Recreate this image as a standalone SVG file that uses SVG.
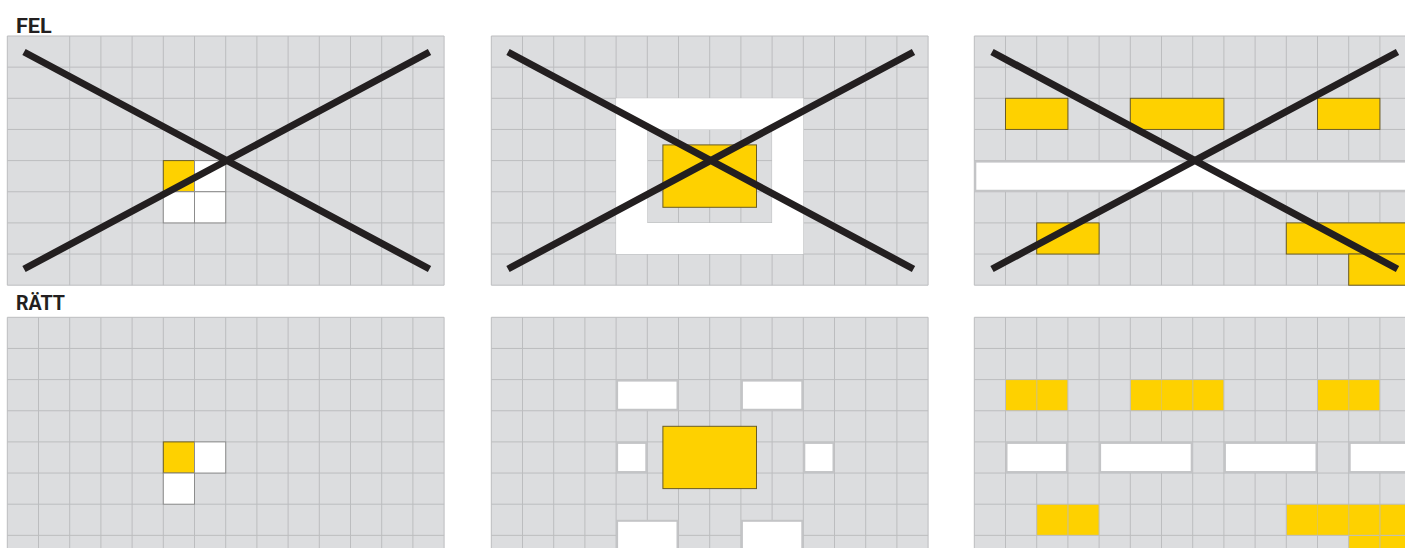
<svg xmlns="http://www.w3.org/2000/svg" width="1405" height="548" viewBox="0 0 1405 548">
<style>
.bg{fill:#dcdddf}
.grid{fill:none;stroke:#bcbdbf;stroke-width:1}
.ylw{fill:#fed100;stroke:#6b5d27;stroke-width:1}
.ylwf{fill:#fed100}
.wcell{fill:#ffffff;stroke:#8c8c8c;stroke-width:1}
.wbox{fill:#ffffff;stroke:#c3c4c6;stroke-width:2}
.cross{stroke:#231f20;stroke-width:7;stroke-linecap:butt;fill:none}
.lbl{font-family:Roboto,"Liberation Sans",sans-serif;font-weight:700;font-size:21px;fill:#231f20}
.sep{fill:none;stroke:#e3c74a;stroke-width:1}
</style>
<rect width="1405" height="548" fill="#ffffff"/>

<g id="labels">
<text class="lbl" x="16" y="32.7" textLength="35.7" lengthAdjust="spacingAndGlyphs">FEL</text>
<text class="lbl" x="16" y="310" textLength="49" lengthAdjust="spacingAndGlyphs">RÄTT</text>
</g>

<!-- Top-left: wrong -->
<g id="fel-1">
<rect class="bg" x="7.3" y="36" width="436.8" height="249.2"/>
<path class="grid" d="M7.3 36V285.2M69.7 36V285.2M100.9 36V285.2M132.1 36V285.2M163.3 36V285.2M194.5 36V285.2M225.7 36V285.2M256.9 36V285.2M288.1 36V285.2M319.3 36V285.2M350.5 36V285.2M381.7 36V285.2M412.9 36V285.2M444.1 36V285.2M7.3 36H444.1M7.3 67.15H444.1M7.3 98.3H444.1M7.3 129.45H444.1M7.3 160.6H444.1M7.3 191.75H444.1M7.3 222.9H444.1M7.3 254.05H444.1M7.3 285.2H444.1"/>
<rect class="ylw" x="163.3" y="160.6" width="31.2" height="31.15"/>
<rect class="wcell" x="194.5" y="160.6" width="31.2" height="31.15"/>
<rect class="wcell" x="163.3" y="191.75" width="31.2" height="31.15"/>
<rect class="wcell" x="194.5" y="191.75" width="31.2" height="31.15"/>
<path class="cross" d="M24 52L429.5 269M24 269L429.5 52"/>
</g>

<!-- Top-middle: wrong -->
<g id="fel-2">
<rect class="bg" x="491.3" y="36" width="436.8" height="249.2"/>
<path class="grid" d="M491.3 36V285.2M522.5 36V285.2M553.7 36V285.2M584.9 36V285.2M616.1 36V285.2M647.3 36V285.2M678.5 36V285.2M709.7 36V285.2M740.9 36V285.2M772.1 36V285.2M803.3 36V285.2M834.5 36V285.2M865.7 36V285.2M896.9 36V285.2M928.1 36V285.2M491.3 36H928.1M491.3 67.15H928.1M491.3 98.3H928.1M491.3 129.45H928.1M491.3 160.6H928.1M491.3 191.75H928.1M491.3 222.9H928.1M491.3 254.05H928.1M491.3 285.2H928.1"/>
<path fill="#ffffff" fill-rule="evenodd" d="M616.1 98.3H803.3V254.05H616.1ZM647.3 129.45V222.9H772.1V129.45Z"/>
<rect class="ylw" x="662.9" y="144.9" width="93.6" height="62.4"/>
<path class="cross" d="M508 52L913.5 269M508 269L913.5 52"/>
</g>

<!-- Top-right: wrong -->
<g id="fel-3">
<rect class="bg" x="974.3" y="36" width="436.8" height="249.2"/>
<path class="grid" d="M974.3 36V285.2M1005.5 36V285.2M1036.7 36V285.2M1067.9 36V285.2M1099.1 36V285.2M1130.3 36V285.2M1161.5 36V285.2M1192.7 36V285.2M1223.9 36V285.2M1255.1 36V285.2M1286.3 36V285.2M1317.5 36V285.2M1348.7 36V285.2M1379.9 36V285.2M974.3 36H1411M974.3 67.15H1411M974.3 98.3H1411M974.3 129.45H1411M974.3 160.6H1411M974.3 191.75H1411M974.3 222.9H1411M974.3 254.05H1411M974.3 285.2H1411"/>
<rect class="ylw" x="1005.5" y="98.3" width="62.4" height="31.15"/>
<rect class="ylw" x="1130.3" y="98.3" width="93.6" height="31.15"/>
<rect class="ylw" x="1317.5" y="98.3" width="62.4" height="31.15"/>
<rect class="wbox" x="975.3" y="161.6" width="440" height="29.15"/>
<rect class="ylw" x="1036.7" y="222.9" width="62.4" height="31.15"/>
<rect class="ylw" x="1286.3" y="222.9" width="130" height="31.15"/>
<rect class="ylw" x="1348.7" y="254.05" width="70" height="31.15"/>
<path class="cross" d="M992 52L1397.5 269M992 269L1397.5 52"/>
</g>

<!-- Bottom-left: right -->
<g id="ratt-1">
<rect class="bg" x="7.3" y="317.3" width="436.8" height="240"/>
<path class="grid" d="M7.3 317.3V560M38.5 317.3V560M69.7 317.3V560M100.9 317.3V560M132.1 317.3V560M163.3 317.3V560M194.5 317.3V560M225.7 317.3V560M256.9 317.3V560M288.1 317.3V560M319.3 317.3V560M350.5 317.3V560M381.7 317.3V560M412.9 317.3V560M444.1 317.3V560M7.3 317.3H444.1M7.3 348.45H444.1M7.3 379.6H444.1M7.3 410.75H444.1M7.3 441.9H444.1M7.3 473.05H444.1M7.3 504.2H444.1M7.3 535.35H444.1"/>
<rect class="ylw" x="163.3" y="441.9" width="31.2" height="31.15"/>
<rect class="wcell" x="194.5" y="441.9" width="31.2" height="31.15" stroke="#a9aaac"/>
<rect class="wcell" x="163.3" y="473.05" width="31.2" height="31.15"/>
</g>

<!-- Bottom-middle: right -->
<g id="ratt-2">
<rect class="bg" x="491.3" y="317.3" width="436.8" height="240"/>
<path class="grid" d="M491.3 317.3V560M522.5 317.3V560M553.7 317.3V560M584.9 317.3V560M616.1 317.3V560M647.3 317.3V560M678.5 317.3V560M709.7 317.3V560M740.9 317.3V560M772.1 317.3V560M803.3 317.3V560M834.5 317.3V560M865.7 317.3V560M896.9 317.3V560M928.1 317.3V560M491.3 317.3H928.1M491.3 348.45H928.1M491.3 379.6H928.1M491.3 410.75H928.1M491.3 441.9H928.1M491.3 473.05H928.1M491.3 504.2H928.1M491.3 535.35H928.1"/>
<rect class="wbox" x="617.1" y="380.6" width="60.4" height="29.15"/>
<rect class="wbox" x="741.9" y="380.6" width="60.4" height="29.15"/>
<rect class="wbox" x="617.1" y="442.9" width="29.2" height="29.15"/>
<rect class="wbox" x="804.3" y="442.9" width="29.2" height="29.15"/>
<rect class="wbox" x="617.1" y="520.8" width="60.4" height="29.15"/>
<rect class="wbox" x="741.9" y="520.8" width="60.4" height="29.15"/>
<rect class="ylw" x="662.9" y="426.3" width="93.6" height="62.3"/>
</g>

<!-- Bottom-right: right -->
<g id="ratt-3">
<rect class="bg" x="974.3" y="317.3" width="436.8" height="240"/>
<rect class="ylwf" x="1005.5" y="379.6" width="62.4" height="31.15"/>
<rect class="ylwf" x="1130.3" y="379.6" width="93.6" height="31.15"/>
<rect class="ylwf" x="1317.5" y="379.6" width="62.4" height="31.15"/>
<rect class="ylwf" x="1036.7" y="504.2" width="62.4" height="31.15"/>
<rect class="ylwf" x="1286.3" y="504.2" width="130" height="31.15"/>
<rect class="ylwf" x="1348.7" y="535.35" width="70" height="31.15"/>
<path class="grid" d="M974.3 317.3V560M1005.5 317.3V560M1036.7 317.3V560M1067.9 317.3V560M1099.1 317.3V560M1130.3 317.3V560M1161.5 317.3V560M1192.7 317.3V560M1223.9 317.3V560M1255.1 317.3V560M1286.3 317.3V560M1317.5 317.3V560M1348.7 317.3V560M1379.9 317.3V560M974.3 317.3H1411M974.3 348.45H1411M974.3 379.6H1411M974.3 410.75H1411M974.3 441.9H1411M974.3 473.05H1411M974.3 504.2H1411M974.3 535.35H1411"/>
<path class="sep" d="M1036.7 380.1V410.2M1161.5 380.1V410.2M1192.7 380.1V410.2M1348.7 380.1V410.2M1067.9 504.7V534.8M1317.5 504.7V534.8M1348.7 504.7V534.8M1379.9 504.7V548"/>
<rect class="wbox" x="1006.5" y="442.9" width="60.4" height="29.15"/>
<rect class="wbox" x="1100.1" y="442.9" width="91.6" height="29.15"/>
<rect class="wbox" x="1224.9" y="442.9" width="91.6" height="29.15"/>
<rect class="wbox" x="1349.7" y="442.9" width="70" height="29.15"/>
</g>
</svg>
